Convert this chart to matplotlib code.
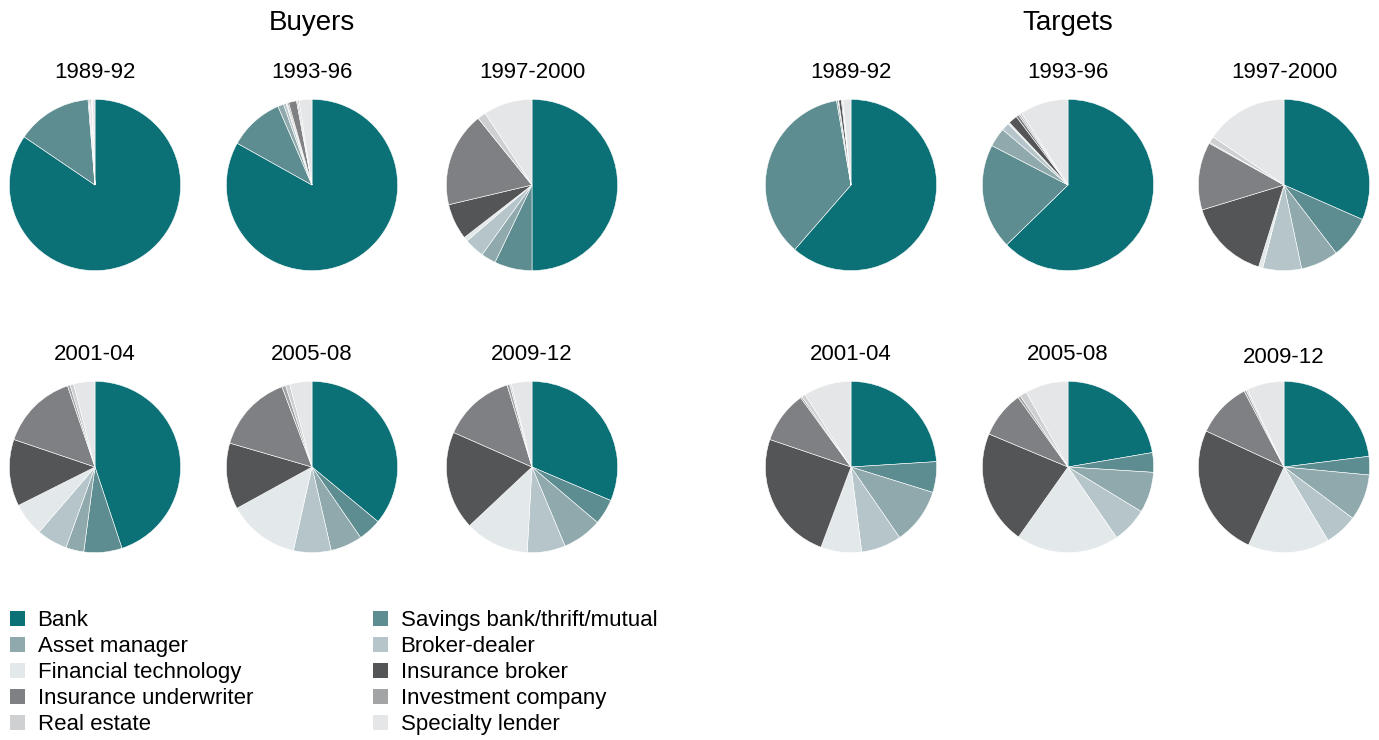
import matplotlib
matplotlib.use('Agg')
import matplotlib.pyplot as plt
from matplotlib.patches import Patch

plt.rcParams['font.family'] = ['Liberation Sans', 'DejaVu Sans']

# segments, clockwise from 12 o'clock
categories = ['Bank', 'Savings bank/thrift/mutual', 'Asset manager', 'Broker-dealer',
              'Financial technology', 'Insurance broker', 'Insurance underwriter',
              'Investment company', 'Real estate', 'Specialty lender']
colors = ['#0b7176', '#5e8d91', '#8fa9ac', '#b5c5c9', '#e3e8ea',
          '#545557', '#7f8083', '#a3a4a6', '#cfd0d2', '#e5e6e8']

periods = ['1989-92', '1993-96', '1997-2000', '2001-04', '2005-08', '2009-12']

# shares in %, same order as categories
buyers = [
    [84.5, 14.2, 0.2, 0.1, 0.0, 0.1, 0.2, 0.1, 0.1, 0.5],
    [83.1, 10.4, 1.1, 0.5, 0.3, 0.2, 1.5, 0.2, 0.3, 2.4],
    [50.0, 7.1, 2.8, 3.8, 0.8, 6.8, 17.9, 0.0, 1.6, 9.2],
    [44.9, 7.2, 3.4, 5.8, 6.3, 12.6, 14.6, 0.5, 0.7, 4.0],
    [36.0, 4.4, 6.0, 7.1, 13.5, 12.5, 14.8, 0.7, 0.8, 4.2],
    [31.4, 4.8, 7.5, 7.2, 12.1, 18.6, 13.7, 0.5, 0.3, 3.9],
]
targets = [
    [61.4, 35.9, 0.3, 0.1, 0.0, 0.5, 0.2, 0.0, 0.1, 1.5],
    [62.7, 19.9, 3.6, 1.5, 0.3, 1.7, 0.5, 0.3, 0.4, 9.1],
    [31.6, 8.0, 7.1, 7.3, 0.8, 15.5, 12.8, 0.2, 1.2, 15.5],
    [24.0, 5.8, 10.6, 7.6, 7.7, 24.5, 9.8, 0.3, 0.7, 9.0],
    [22.3, 3.7, 7.7, 6.7, 19.4, 21.5, 8.8, 0.5, 1.3, 8.1],
    [23.0, 3.5, 8.7, 6.2, 15.4, 25.1, 10.4, 0.4, 0.3, 7.0],
]

W, H = 1379, 740
fig = plt.figure(figsize=(W / 100, H / 100), dpi=100)

r = 86.5  # pie radius in px
col_x = [95, 312, 532, 851, 1068, 1284]
row_y = [185, 467]
title_y = [73, 355]


def draw_pie(data, cx, cy, label, ty):
    ax = fig.add_axes([(cx - r) / W, 1 - (cy + r) / H, 2 * r / W, 2 * r / H])
    ax.pie(data, colors=colors, startangle=90, counterclock=False,
           wedgeprops=dict(edgecolor='white', linewidth=0.4))
    ax.set_xlim(-1.01, 1.01)
    ax.set_ylim(-1.01, 1.01)
    ax.set_aspect('equal')
    ax.axis('off')
    fig.text(cx / W, 1 - ty / H, label, ha='center', va='center', fontsize=16)


for i, per in enumerate(periods):
    row, col = divmod(i, 3)
    draw_pie(buyers[i], col_x[col], row_y[row], per, title_y[row])
    draw_pie(targets[i], col_x[col + 3], row_y[row], per,
             title_y[row] + (3 if i == 5 else 0))

fig.text(312 / W, 1 - 23 / H, 'Buyers', ha='center', va='center', fontsize=20)
fig.text(1068 / W, 1 - 23 / H, 'Targets', ha='center', va='center', fontsize=20)

handles = [Patch(facecolor=c, edgecolor='none') for c in colors]
for k, x0 in enumerate([10, 373]):
    idx = list(range(k, len(categories), 2))
    fig.legend([handles[j] for j in idx], [categories[j] for j in idx],
               loc='upper left', bbox_to_anchor=(x0 / W, 1 - 610 / H),
               frameon=False, fontsize=16, borderpad=0, borderaxespad=0,
               handlelength=0.68, handleheight=0.68, handletextpad=0.56,
               labelspacing=0.23)

fig.savefig('out.png', dpi=100)
